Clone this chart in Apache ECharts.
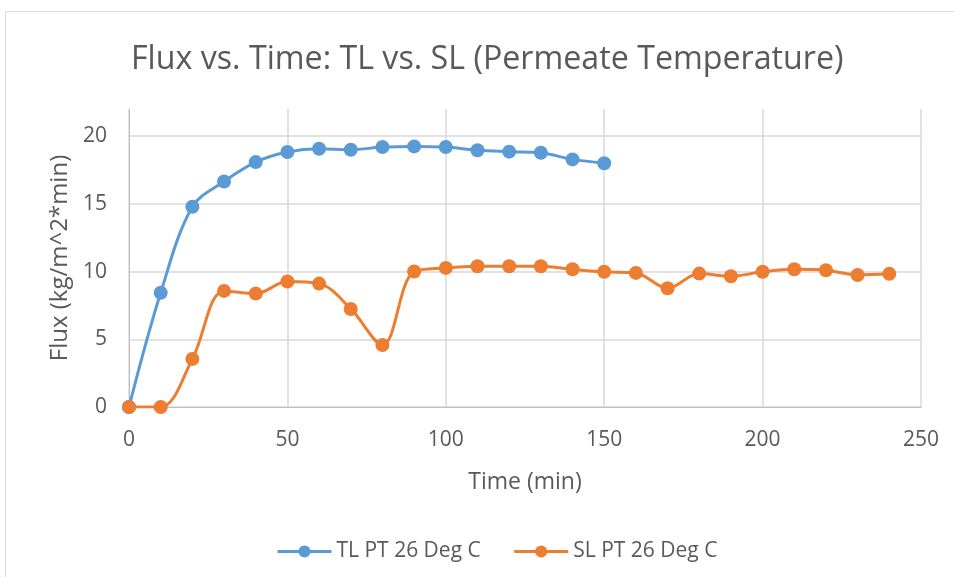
<!DOCTYPE html>
<html><head><meta charset="utf-8">
<script src="https://cdn.jsdelivr.net/npm/echarts@6/dist/echarts.min.js"></script>
<style>html,body{margin:0;padding:0;background:#fff}#c{width:954px;height:577px}</style>
</head><body><div id="c"></div>
<script>
const title = 'Flux vs. Time: TL vs. SL (Permeate Temperature)';
const xTitle = 'Time (min)';
const yTitle = 'Flux (kg/m^2*min)';
const seriesNames = ['TL PT 26 Deg C', 'SL PT 26 Deg C'];
const tlTime = [0,10,20,30,40,50,60,70,80,90,100,110,120,130,140,150];
const tlFlux = [0,8.43,14.78,16.65,18.08,18.82,19.07,18.99,19.19,19.24,19.19,18.95,18.85,18.77,18.28,18.0];
const slTime = [0,10,20,30,40,50,60,70,80,90,100,110,120,130,140,150,160,170,180,190,200,210,220,230,240];
const slFlux = [0,0,3.55,8.57,8.37,9.26,9.11,7.24,4.58,10.0,10.27,10.39,10.39,10.39,10.17,9.98,9.9,8.77,9.85,9.65,9.98,10.17,10.1,9.75,9.83];
const xTicks = [0,50,100,150,200,250];
const yTicks = [0,5,10,15,20];

const FONT = 'Open Sans';
const TXT = '#595959';
const pair = (xs, ys) => xs.map((x,i)=>[x, ys[i]]);
const chart = echarts.init(document.getElementById('c'));
chart.setOption({
  animation: false,
  textStyle: {fontFamily: FONT, color: TXT},
  graphic: [{type:'rect', shape:{x:5.5,y:11.5,width:960,height:600}, style:{fill:'none', stroke:'#d9d9d9', lineWidth:1}, z:-1}],
  title: {text: title, left: 126, top: 39, textStyle:{fontFamily: FONT, fontSize: 32.2, fontWeight:'normal', color: TXT}},
  legend: {bottom: 10, left: 271, itemWidth: 54, itemHeight: 15, itemGap: 32,
    lineStyle:{width:3},
    textStyle:{fontFamily: FONT, fontSize: 21, color: TXT}, data: seriesNames},
  grid: {left: 129, right: 33, top: 109, bottom: 170},
  xAxis: {type:'value', min: xTicks[0], max: xTicks[xTicks.length-1], interval: 50,
    name: xTitle, nameLocation:'middle', nameGap: 64, nameTextStyle:{fontSize: 23, color: TXT, fontFamily: FONT},
    axisLine:{lineStyle:{color:'#bfbfbf', width:1}}, axisTick:{show:false},
    axisLabel:{fontSize: 21, color: TXT, margin: 23},
    splitLine:{show:true, lineStyle:{color:'#d9d9d9', width:1.5}}},
  yAxis: {type:'value', min: 0, max: 22, interval: 5,
    name: yTitle, nameLocation:'middle', nameGap: 53, nameTextStyle:{fontSize: 24, color: TXT, fontFamily: FONT},
    axisLine:{show:true, lineStyle:{color:'#bfbfbf', width:1}}, axisTick:{show:false},
    axisLabel:{fontSize: 21, color: TXT, margin: 22, showMaxLabel:false,
      formatter: v => yTicks.includes(v) ? String(v) : ''},
    splitLine:{show:true, lineStyle:{color:['#d9d9d9','#d9d9d9','#d9d9d9','#d9d9d9','#d9d9d9','rgba(0,0,0,0)'], width:1.5}}},
  series: [
    {name: seriesNames[0], type:'line', data: pair(tlTime, tlFlux), smooth: 0.35, symbol:'circle', symbolSize: 14,
      itemStyle:{color:'#5b9bd5'}, lineStyle:{color:'#5b9bd5', width:3}},
    {name: seriesNames[1], type:'line', data: pair(slTime, slFlux), smooth: 0.35, symbol:'circle', symbolSize: 14,
      itemStyle:{color:'#ed7d31'}, lineStyle:{color:'#ed7d31', width:3}}
  ]
});
</script></body></html>
